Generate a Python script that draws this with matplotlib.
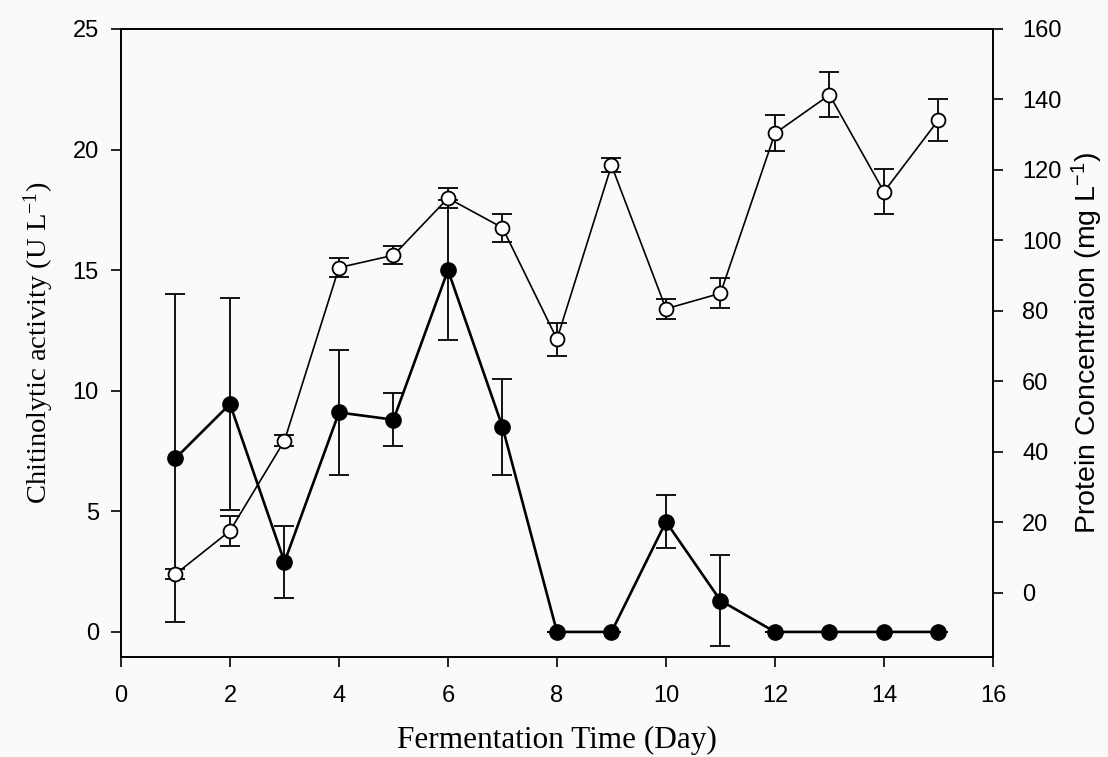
import matplotlib
matplotlib.use("Agg")
import matplotlib.pyplot as plt

# Data
days = [1, 2, 3, 4, 5, 6, 7, 8, 9, 10, 11, 12, 13, 14, 15]

chitinase = [7.2, 9.45, 2.9, 9.1, 8.8, 15.0, 8.5, 0, 0, 4.57, 1.3, 0, 0, 0, 0]
chitinase_err = [6.8, 4.4, 1.5, 2.6, 1.1, 2.9, 2.0, 0, 0, 1.1, 1.9, 0, 0, 0, 0]

protein = [5.3, 17.6, 43.2, 92.3, 95.8, 112.0, 103.6, 72.0, 121.3,
           80.6, 85.0, 130.4, 141.3, 113.8, 134.2]
protein_err = [1.5, 4.3, 1.6, 2.6, 2.5, 2.8, 3.9, 4.7, 2.0,
               2.9, 4.3, 5.1, 6.4, 6.4, 5.9]

bg = "#fcfaf8"
fig = plt.figure(figsize=(11.08, 7.57), dpi=100, facecolor=bg)
ax = fig.add_axes([0.1092, 0.1321, 0.787, 0.8296], facecolor=bg)
ax2 = ax.twinx()

# Filled circles: chitinolytic activity (left axis)
ax.errorbar(days, chitinase, yerr=chitinase_err, fmt='o-', color='black',
            markersize=11, linewidth=1.9, elinewidth=1.3, capsize=7,
            capthick=1.3, zorder=3)

# Open circles: protein concentration (right axis)
ax2.errorbar(days, protein, yerr=protein_err, fmt='o-', color='black',
             markerfacecolor='white', markeredgecolor='black',
             markeredgewidth=1.3, markersize=10, linewidth=1.2,
             elinewidth=1.3, capsize=7, capthick=1.3, zorder=4)

ax.set_xlim(0, 16)
ax.set_ylim(-1.04, 25)
ax2.set_ylim(-18.2, 160)
ax.set_xticks(range(0, 17, 2))
ax.set_yticks([0, 5, 10, 15, 20, 25])
ax2.set_yticks(range(0, 161, 20))

for a in (ax, ax2):
    a.tick_params(direction='out', length=7, width=1.2, labelsize=17)
    for lbl in a.get_xticklabels() + a.get_yticklabels():
        lbl.set_fontfamily('Liberation Sans')
    for s in a.spines.values():
        s.set_linewidth(1.2)
ax.tick_params(axis='x', pad=13)
ax.tick_params(axis='y', pad=9)
ax2.tick_params(axis='y', pad=14)

ax.set_xlabel('Fermentation Time (Day)', fontsize=22.5,
              fontfamily='Liberation Serif', labelpad=14)
ax.set_ylabel(r'Chitinolytic activity (U $\mathregular{L^{-1}}$)',
              fontsize=20.5, fontfamily='Liberation Serif', labelpad=12)
ax2.set_ylabel(r'Protein Concentraion (mg $\mathregular{L^{-1}}$)',
               fontsize=20.5, fontfamily='Liberation Sans', labelpad=6)

plt.savefig("out.png", dpi=100, facecolor=bg)
plt.close()
